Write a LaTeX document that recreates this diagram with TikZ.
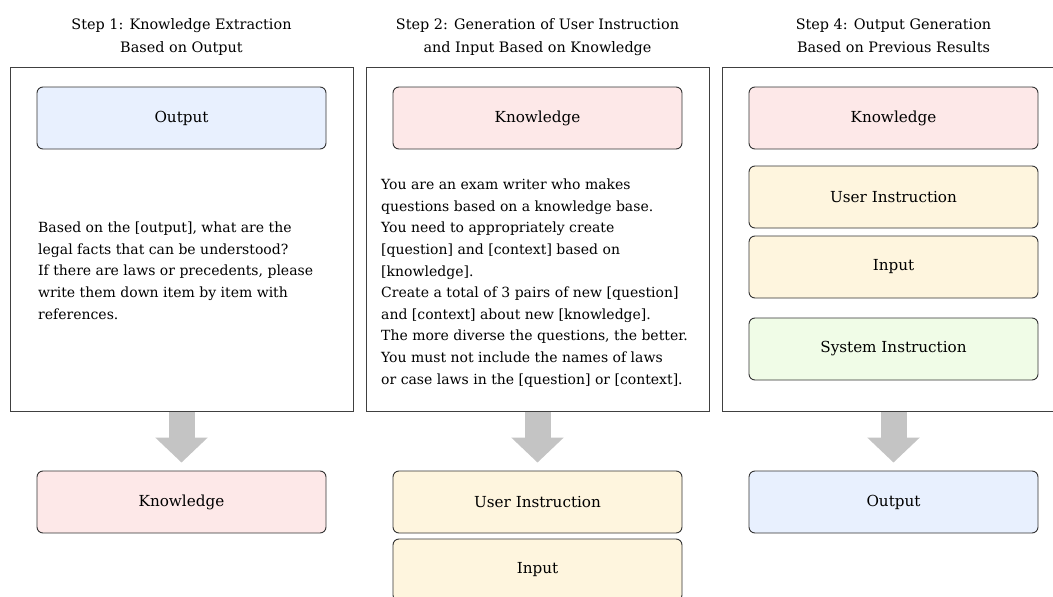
\documentclass[tikz,border=0pt]{standalone}
\usepackage{fontspec}
\setmainfont{DejaVu Serif}
\usetikzlibrary{arrows.meta}
\definecolor{outblue}{HTML}{E8F0FE}
\definecolor{knowpink}{HTML}{FDE8E8}
\definecolor{inyellow}{HTML}{FEF5DE}
\definecolor{sysgreen}{HTML}{F0FCE7}
\definecolor{flowgray}{HTML}{C4C4C4}
\tikzset{
  panel/.style={draw=black!75,line width=0.8pt,minimum width=343pt,minimum height=344pt,inner sep=0pt},
  item/.style={draw=black!80,line width=0.9pt,rounded corners=6pt,minimum width=289pt,minimum height=62pt,
    inner sep=0pt,font=\fontsize{15.2}{18}\selectfont},
  steptitle/.style={align=center,anchor=north,inner sep=0pt,font=\fontsize{14.4}{23}\selectfont},
  prompt/.style={align=left,anchor=base west,inner sep=0pt,font=\fontsize{14}{21.6}\selectfont},
  flow/.style={line width=26pt,color=flowgray,-{Triangle[length=25pt,width=51pt]}}
}
\begin{document}
\begin{tikzpicture}[x=1pt,y=-1pt]
\clip (0,0) rectangle (1053,597);
\fill[white] (0,0) rectangle (1053,597);
\begin{scope} %Step 1
  \node[steptitle] (s1title) at (181.5,13) {\strut Step 1: Knowledge Extraction\\Based on Output};
  \node[panel] (s1panel) at (181.5,239) {};
  \node[item,fill=outblue] (s1output) at (181.5,118) {Output};
  % anchor is the baseline of the last line
  \node[prompt] (s1prompt) at (38,319) {Based on the [output], what are the\\
    legal facts that can be understood?\\
    If there are laws or precedents, please\\
    write them down item by item with\\
    references.};
  \node[item,fill=knowpink] (s1knowledge) at (181.5,502) {Knowledge};
  \draw[flow] ([yshift=-0.5pt]s1panel.south) -- ([yshift=8pt]s1knowledge.north);
\end{scope}
\begin{scope}[shift={(356,0)}] %Step 2
  \node[steptitle] (s2title) at (181.5,13) {\strut Step 2: Generation of User Instruction\\and Input Based on Knowledge};
  \node[panel] (s2panel) at (181.5,239) {};
  \node[item,fill=knowpink] (s2knowledge) at (181.5,118) {Knowledge};
  \node[prompt] (s2prompt) at (25,384) {You are an exam writer who makes\\
    questions based on a knowledge base.\\
    You need to appropriately create\\
    {}[question] and [context] based on\\
    {}[knowledge].\\
    Create a total of 3 pairs of new [question]\\
    and [context] about new [knowledge].\\
    The more diverse the questions, the better.\\
    You must not include the names of laws\\
    or case laws in the [question] or [context].};
  \node[item,fill=inyellow] (s2instr) at (181.5,502) {User Instruction};
  \node[item,fill=inyellow] (s2input) at (181.5,570) {Input};
  \draw[flow] ([yshift=-0.5pt]s2panel.south) -- ([yshift=8pt]s2instr.north);
\end{scope}
\begin{scope}[shift={(712,0)}] %Step 4
  \node[steptitle] (s4title) at (181.5,13) {\strut Step 4: Output Generation\\Based on Previous Results};
  \node[panel] (s4panel) at (181.5,239) {};
  \node[item,fill=knowpink] (s4knowledge) at (181.5,118) {Knowledge};
  \node[item,fill=inyellow] (s4instr) at (181.5,197) {User Instruction};
  \node[item,fill=inyellow] (s4input) at (181.5,267) {Input};
  \node[item,fill=sysgreen] (s4system) at (181.5,349) {System Instruction};
  \node[item,fill=outblue] (s4output) at (181.5,502) {Output};
  \draw[flow] ([yshift=-0.5pt]s4panel.south) -- ([yshift=8pt]s4output.north);
\end{scope}
\end{tikzpicture}
\end{document}
